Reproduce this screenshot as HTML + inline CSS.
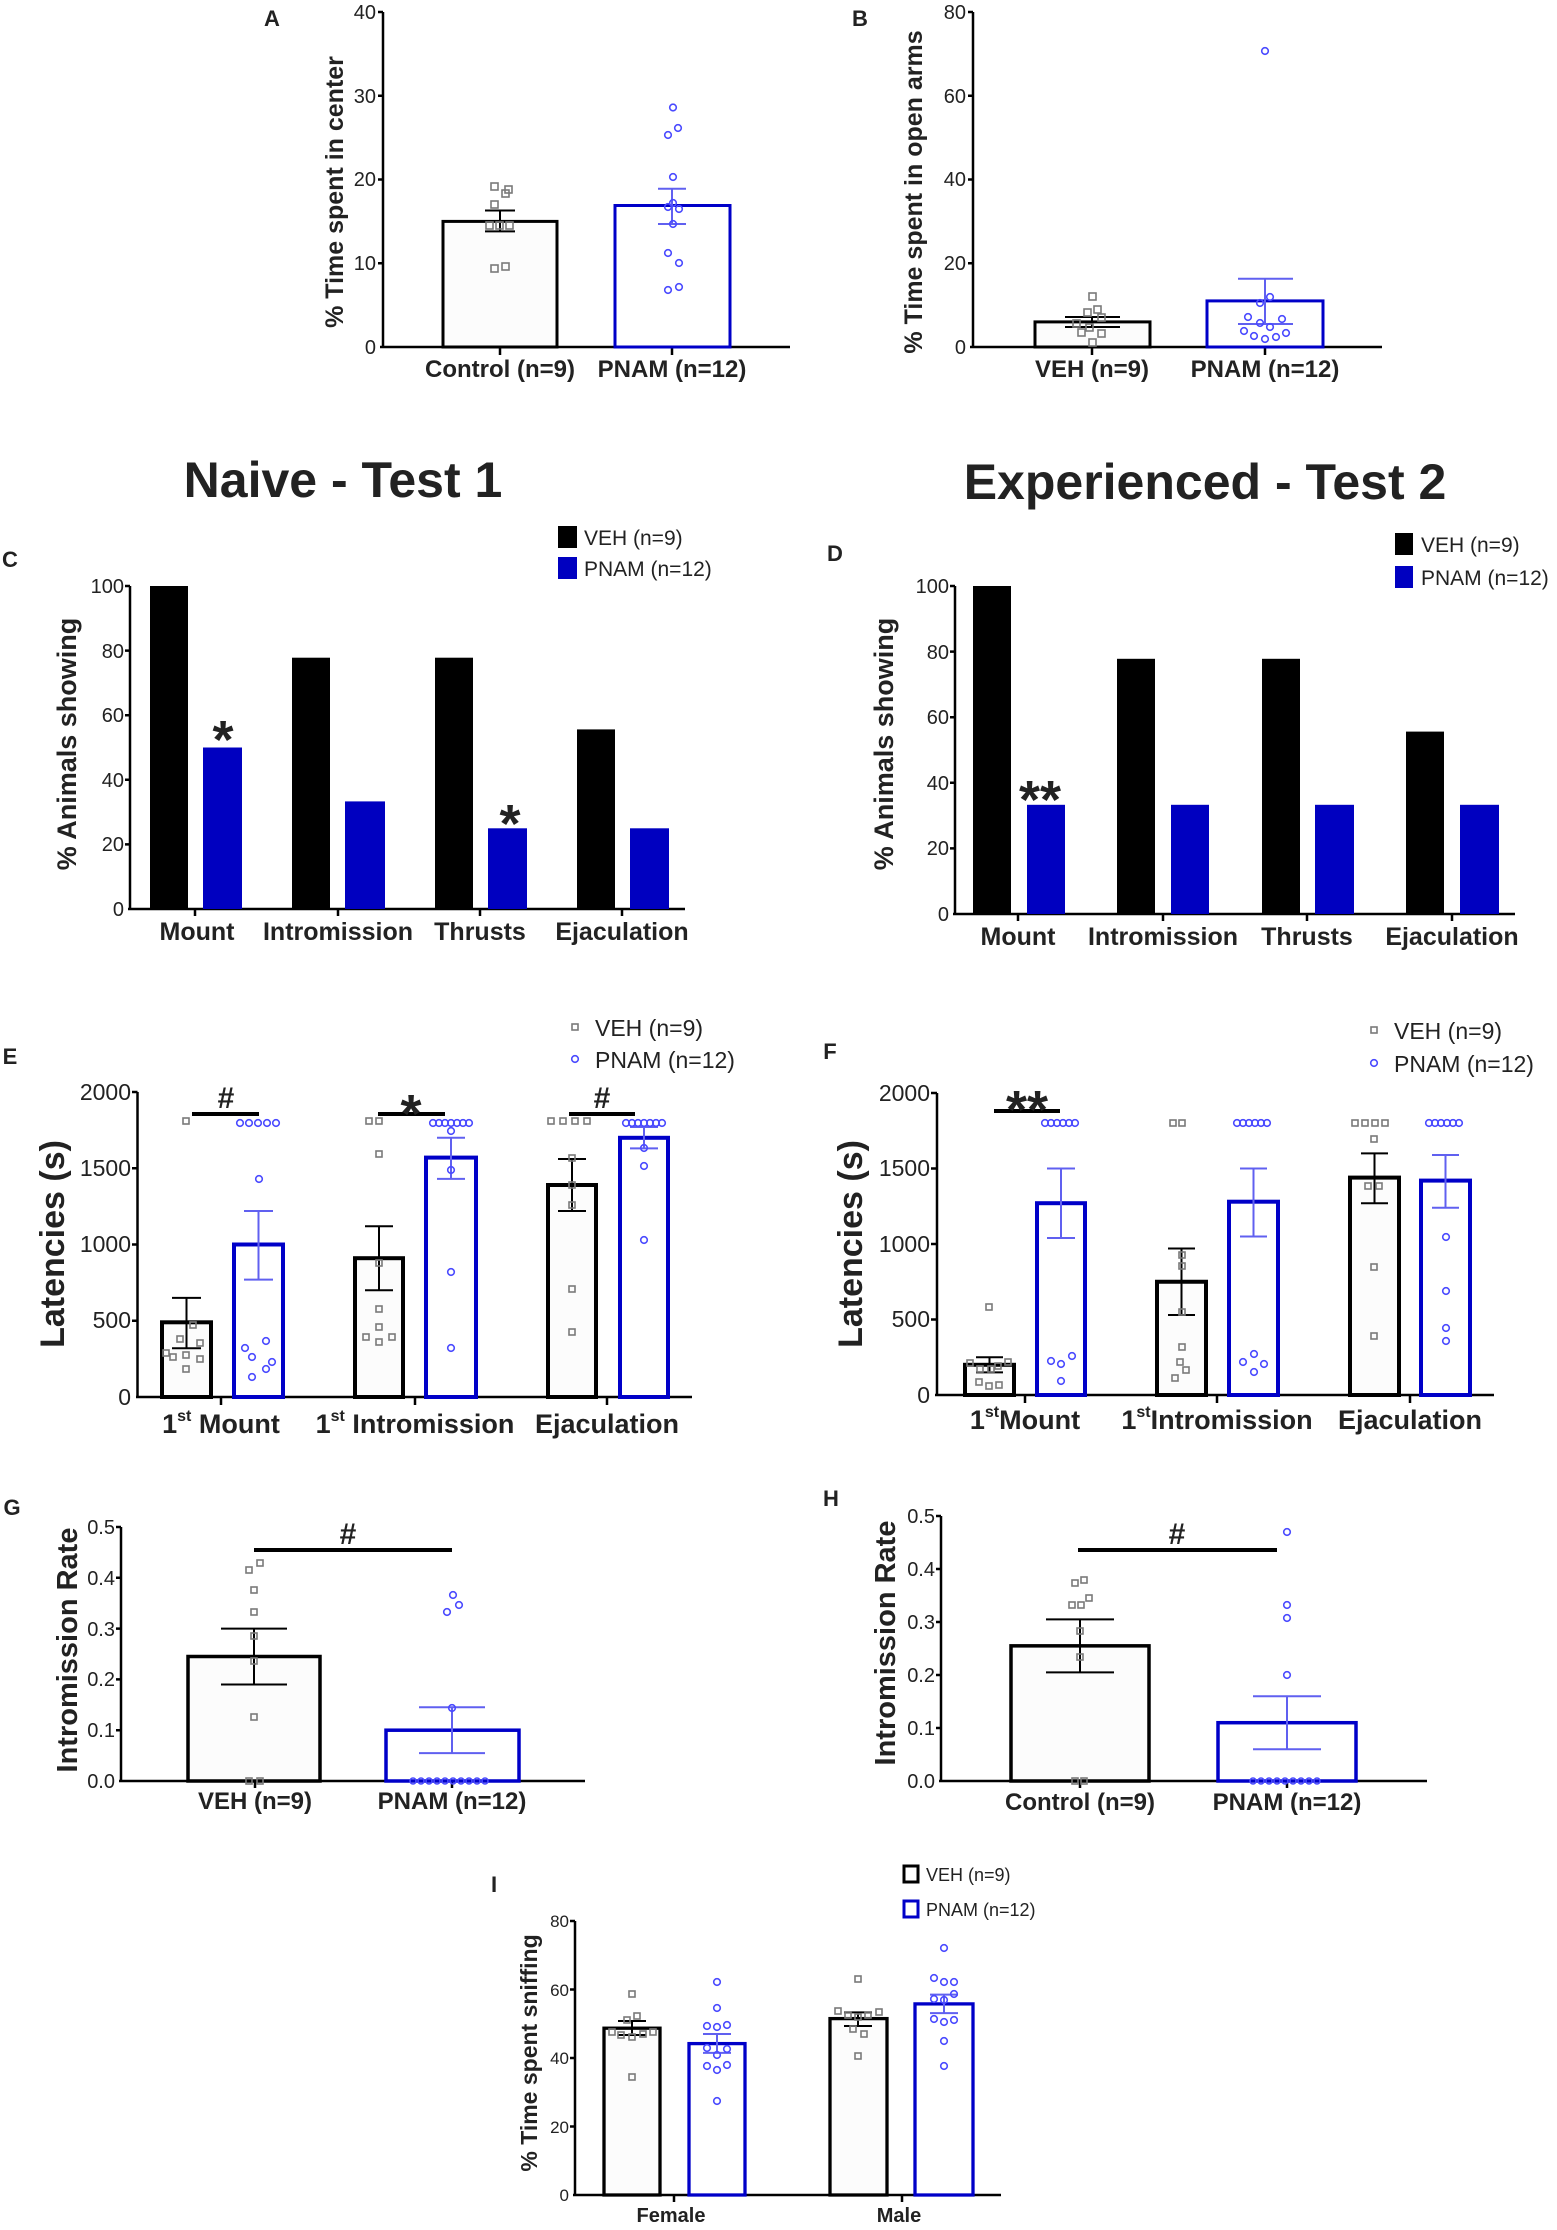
<!DOCTYPE html>
<html><head><meta charset="utf-8"><style>
html,body{margin:0;padding:0;background:#fff}
svg{display:block}
text{font-family:"Liberation Sans Narrow","Liberation Sans",Arial,sans-serif;fill:#222}
.b{font-weight:bold}
.w{font-family:"Liberation Sans",Arial,sans-serif}
.sq{fill:none;stroke:#7a7a7a;stroke-width:1.6}
.ci{fill:none;stroke:#4a4aff;stroke-width:1.6}
.vb{fill:#fcfcfc;stroke:#000}
.pb{fill:#fff;stroke:#0000c8}
.ek{stroke:#000;stroke-width:2;fill:none}
.eb{stroke:#6060f0;stroke-width:2;fill:none}
.ax{stroke:#000;stroke-width:2.5;fill:none}
</style></head><body>
<svg width="1557" height="2230" viewBox="0 0 1557 2230" xmlns="http://www.w3.org/2000/svg">

<!-- ===== Panel A ===== -->
<text x="272" y="26" class="b w" font-size="22" text-anchor="middle">A</text>
<g class="ax"><path d="M383 12V347M380 347H790M378 12H383M378 95.8H383M378 179.5H383M378 263.3H383M500 347V355M672 347V355"/></g>
<g font-size="20" text-anchor="end"><text x="376" y="19">40</text><text x="376" y="103">30</text><text x="376" y="186">20</text><text x="376" y="270">10</text><text x="376" y="354">0</text></g>
<rect x="443" y="221.4" width="114" height="125.6" class="vb" stroke-width="3"/>
<rect x="615" y="205.5" width="115" height="141.5" class="pb" stroke-width="3"/>
<path class="ek" d="M500 210.5V231.4M485 210.5H515M485 231.4H515"/>
<path class="eb" d="M672 188.7V224M658 188.7H686M658 224H686"/>
<g class="sq"><rect x="491" y="183" width="7" height="7"/><rect x="505" y="186" width="7" height="7"/><rect x="502" y="190" width="7" height="7"/><rect x="491" y="201" width="7" height="7"/><rect x="486" y="222" width="7" height="7"/><rect x="496" y="222" width="7" height="7"/><rect x="506" y="222" width="7" height="7"/><rect x="491" y="265" width="7" height="7"/><rect x="502" y="263" width="7" height="7"/></g>
<g class="ci"><circle cx="673" cy="107.5" r="3.3"/><circle cx="678" cy="128" r="3.3"/><circle cx="668" cy="135" r="3.3"/><circle cx="673" cy="177" r="3.3"/><circle cx="673" cy="203" r="3.3"/><circle cx="668" cy="207" r="3.3"/><circle cx="679" cy="209" r="3.3"/><circle cx="673" cy="224" r="3.3"/><circle cx="668" cy="253" r="3.3"/><circle cx="679" cy="263" r="3.3"/><circle cx="679" cy="287" r="3.3"/><circle cx="668" cy="290" r="3.3"/></g>
<g class="b" font-size="24" text-anchor="middle"><text x="500" y="377">Control (n=9)</text><text x="672" y="377">PNAM (n=12)</text></g>
<text transform="translate(343,192) rotate(-90)" class="b w" font-size="25" text-anchor="middle">% Time spent in center</text>

<!-- ===== Panel B ===== -->
<text x="860" y="26" class="b w" font-size="22" text-anchor="middle">B</text>
<g class="ax"><path d="M973 12V347M970 347H1382M968 12H973M968 95.75H973M968 179.5H973M968 263.25H973M1092 347V355M1265 347V355"/></g>
<g font-size="20" text-anchor="end"><text x="966" y="19">80</text><text x="966" y="103">60</text><text x="966" y="186">40</text><text x="966" y="270">20</text><text x="966" y="354">0</text></g>
<rect x="1035" y="321.9" width="115" height="25.1" class="vb" stroke-width="3"/>
<rect x="1207" y="300.9" width="116" height="46.1" class="pb" stroke-width="3"/>
<path class="ek" d="M1092 317V327M1065 317H1120M1065 327H1120"/>
<path class="eb" d="M1265 278.7V324M1238 278.7H1293M1238 324H1293"/>
<g class="sq"><rect x="1089" y="293" width="7" height="7"/><rect x="1094" y="306" width="7" height="7"/><rect x="1084" y="309" width="7" height="7"/><rect x="1098" y="314" width="7" height="7"/><rect x="1073" y="320" width="7" height="7"/><rect x="1086" y="324" width="7" height="7"/><rect x="1078" y="329" width="7" height="7"/><rect x="1098" y="330" width="7" height="7"/><rect x="1089" y="339" width="7" height="7"/></g>
<g class="ci"><circle cx="1265" cy="51" r="3.3"/><circle cx="1270" cy="297" r="3.3"/><circle cx="1260" cy="303" r="3.3"/><circle cx="1248" cy="317" r="3.3"/><circle cx="1282" cy="319" r="3.3"/><circle cx="1260" cy="323" r="3.3"/><circle cx="1270" cy="327" r="3.3"/><circle cx="1244" cy="331" r="3.3"/><circle cx="1286" cy="333" r="3.3"/><circle cx="1254" cy="336" r="3.3"/><circle cx="1276" cy="337" r="3.3"/><circle cx="1265" cy="339" r="3.3"/></g>
<g class="b" font-size="24" text-anchor="middle"><text x="1092" y="377">VEH (n=9)</text><text x="1265" y="377">PNAM (n=12)</text></g>
<text transform="translate(922,192) rotate(-90)" class="b w" font-size="25" text-anchor="middle">% Time spent in open arms</text>

<!-- ===== Titles ===== -->
<text x="343" y="497" class="b w" font-size="50" text-anchor="middle">Naive - Test 1</text>
<text x="1205" y="499" class="b w" font-size="50" text-anchor="middle">Experienced - Test 2</text>

<!-- ===== Panel C ===== -->
<text x="10" y="567" class="b w" font-size="22" text-anchor="middle">C</text>
<rect x="558" y="526" width="19" height="22" fill="#000"/>
<rect x="558" y="557" width="19" height="22" fill="#0000c0"/>
<g font-size="21"><text x="584" y="545">VEH (n=9)</text><text x="584" y="576">PNAM (n=12)</text></g>
<g class="ax"><path d="M130 586V909M128 909H685M125 586H130M125 650.6H130M125 715.2H130M125 779.8H130M125 844.4H130M195 909V916M338 909V916M480 909V916M622 909V916"/></g>
<g font-size="20" text-anchor="end"><text x="124" y="593">100</text><text x="124" y="658">80</text><text x="124" y="722">60</text><text x="124" y="787">40</text><text x="124" y="851">20</text><text x="124" y="916">0</text></g>
<g fill="#000"><rect x="150" y="586" width="38" height="323"/><rect x="292" y="657.7" width="38" height="251.3"/><rect x="435" y="657.7" width="38" height="251.3"/><rect x="577" y="729.4" width="38" height="179.6"/></g>
<g fill="#0000c0"><rect x="203" y="747.5" width="39" height="161.5"/><rect x="345" y="801.4" width="40" height="107.6"/><rect x="488" y="828.3" width="39" height="80.7"/><rect x="630" y="828.3" width="39" height="80.7"/></g>
<g class="b w" font-size="54" text-anchor="middle"><text x="223" y="758">*</text><text x="510" y="842">*</text></g>
<g class="b" font-size="25" text-anchor="middle"><text x="197" y="940">Mount</text><text x="338" y="940">Intromission</text><text x="480" y="940">Thrusts</text><text x="622" y="940">Ejaculation</text></g>
<text transform="translate(76,744) rotate(-90)" class="b w" font-size="27" text-anchor="middle">% Animals showing</text>

<!-- ===== Panel D ===== -->
<text x="835" y="561" class="b w" font-size="22" text-anchor="middle">D</text>
<rect x="1395" y="533" width="18" height="22" fill="#000"/>
<rect x="1395" y="566" width="18" height="22" fill="#0000c0"/>
<g font-size="21"><text x="1421" y="552">VEH (n=9)</text><text x="1421" y="585">PNAM (n=12)</text></g>
<g class="ax"><path d="M955 586V914M953 914H1515M950 586H955M950 651.6H955M950 717.2H955M950 782.8H955M950 848.4H955M1018 914V921M1163 914V921M1307 914V921M1452 914V921"/></g>
<g font-size="20" text-anchor="end"><text x="949" y="593">100</text><text x="949" y="659">80</text><text x="949" y="724">60</text><text x="949" y="790">40</text><text x="949" y="855">20</text><text x="949" y="921">0</text></g>
<g fill="#000"><rect x="973" y="586" width="38" height="328"/><rect x="1117" y="658.8" width="38" height="255.2"/><rect x="1262" y="658.8" width="38" height="255.2"/><rect x="1406" y="731.6" width="38" height="182.4"/></g>
<g fill="#0000c0"><rect x="1027" y="804.8" width="38" height="109.2"/><rect x="1171" y="804.8" width="38" height="109.2"/><rect x="1315" y="804.8" width="39" height="109.2"/><rect x="1460" y="804.8" width="39" height="109.2"/></g>
<text x="1040" y="818" class="b w" font-size="54" text-anchor="middle">**</text>
<g class="b" font-size="25" text-anchor="middle"><text x="1018" y="945">Mount</text><text x="1163" y="945">Intromission</text><text x="1307" y="945">Thrusts</text><text x="1452" y="945">Ejaculation</text></g>
<text transform="translate(893,744) rotate(-90)" class="b w" font-size="27" text-anchor="middle">% Animals showing</text>

<!-- ===== Panel E ===== -->
<text x="10" y="1064" class="b w" font-size="22" text-anchor="middle">E</text>
<rect x="572" y="1024" width="6" height="6" class="sq"/><circle cx="575" cy="1059" r="3.3" class="ci"/>
<g font-size="23"><text x="595" y="1036">VEH (n=9)</text><text x="595" y="1068">PNAM (n=12)</text></g>
<g class="ax"><path d="M137.5 1092V1397M136 1397H692M132 1092H137.5M132 1168.25H137.5M132 1244.5H137.5M132 1320.75H137.5M221 1397V1405M415 1397V1405M607 1397V1405"/></g>
<g font-size="23" text-anchor="end"><text x="131" y="1100">2000</text><text x="131" y="1176">1500</text><text x="131" y="1252">1000</text><text x="131" y="1328">500</text><text x="131" y="1405">0</text></g>
<g stroke-width="4"><rect x="162" y="1322.3" width="49" height="74.7" class="vb"/><rect x="355" y="1258.2" width="48" height="138.8" class="vb"/><rect x="548" y="1185" width="48" height="212" class="vb"/>
<rect x="234" y="1244.5" width="49" height="152.5" class="pb"/><rect x="426" y="1157.6" width="50" height="239.4" class="pb"/><rect x="620" y="1137.8" width="48" height="259.2" class="pb"/></g>
<path class="ek" d="M186.5 1297.9V1348.2M172 1297.9H201M172 1348.2H201M379 1226.2V1290.3M365 1226.2H393M365 1290.3H393M572 1159V1211M558 1159H586M558 1211H586"/>
<path class="eb" d="M258.5 1211V1279.6M244 1211H273M244 1279.6H273M451 1137.8V1178.9M437 1137.8H465M437 1178.9H465M644 1127V1148.4M630 1127H658M630 1148.4H658"/>
<g class="sq"><rect x="183" y="1118" width="6" height="6"/><rect x="190" y="1322" width="6" height="6"/><rect x="177" y="1336" width="6" height="6"/><rect x="197" y="1340" width="6" height="6"/><rect x="163" y="1350" width="6" height="6"/><rect x="170" y="1354" width="6" height="6"/><rect x="183" y="1352" width="6" height="6"/><rect x="197" y="1356" width="6" height="6"/><rect x="183" y="1366" width="6" height="6"/>
<rect x="366" y="1118" width="6" height="6"/><rect x="376" y="1118" width="6" height="6"/><rect x="376" y="1151" width="6" height="6"/><rect x="376" y="1260" width="6" height="6"/><rect x="376" y="1306" width="6" height="6"/><rect x="376" y="1324" width="6" height="6"/><rect x="363" y="1334" width="6" height="6"/><rect x="389" y="1334" width="6" height="6"/><rect x="376" y="1339" width="6" height="6"/>
<rect x="548" y="1118" width="6" height="6"/><rect x="560" y="1118" width="6" height="6"/><rect x="572" y="1118" width="6" height="6"/><rect x="584" y="1118" width="6" height="6"/><rect x="569" y="1155" width="6" height="6"/><rect x="569" y="1182" width="6" height="6"/><rect x="569" y="1202" width="6" height="6"/><rect x="569" y="1286" width="6" height="6"/><rect x="569" y="1329" width="6" height="6"/></g>
<g class="ci"><circle cx="240" cy="1123" r="3.3"/><circle cx="249" cy="1123" r="3.3"/><circle cx="258" cy="1123" r="3.3"/><circle cx="267" cy="1123" r="3.3"/><circle cx="276" cy="1123" r="3.3"/><circle cx="259" cy="1179" r="3.3"/><circle cx="266" cy="1341" r="3.3"/><circle cx="245" cy="1348" r="3.3"/><circle cx="252" cy="1357" r="3.3"/><circle cx="272" cy="1362" r="3.3"/><circle cx="266" cy="1369" r="3.3"/><circle cx="252" cy="1377" r="3.3"/>
<circle cx="433" cy="1123" r="3.3"/><circle cx="439" cy="1123" r="3.3"/><circle cx="445" cy="1123" r="3.3"/><circle cx="451" cy="1123" r="3.3"/><circle cx="457" cy="1123" r="3.3"/><circle cx="463" cy="1123" r="3.3"/><circle cx="469" cy="1123" r="3.3"/><circle cx="451" cy="1131" r="3.3"/><circle cx="451" cy="1170" r="3.3"/><circle cx="451" cy="1272" r="3.3"/><circle cx="451" cy="1348" r="3.3"/>
<circle cx="626" cy="1123" r="3.3"/><circle cx="632" cy="1123" r="3.3"/><circle cx="638" cy="1123" r="3.3"/><circle cx="644" cy="1123" r="3.3"/><circle cx="650" cy="1123" r="3.3"/><circle cx="656" cy="1123" r="3.3"/><circle cx="662" cy="1123" r="3.3"/><circle cx="644" cy="1148" r="3.3"/><circle cx="644" cy="1166" r="3.3"/><circle cx="644" cy="1240" r="3.3"/></g>
<path d="M192 1114H259M378 1114H445M569 1114H635" stroke="#000" stroke-width="4"/>
<g class="b w" text-anchor="middle"><text x="226" y="1108" font-size="30">#</text><text x="411" y="1132" font-size="54">*</text><text x="602" y="1108" font-size="30">#</text></g>
<g class="b" font-size="27" text-anchor="middle"><text x="221" y="1433">1<tspan font-size="16" dy="-12">st</tspan><tspan dy="12"> Mount</tspan></text><text x="415" y="1433">1<tspan font-size="16" dy="-12">st</tspan><tspan dy="12"> Intromission</tspan></text><text x="607" y="1433">Ejaculation</text></g>
<text transform="translate(64,1244) rotate(-90)" class="b w" font-size="34" text-anchor="middle">Latencies (s)</text>

<!-- ===== Panel F ===== -->
<text x="830" y="1059" class="b w" font-size="22" text-anchor="middle">F</text>
<rect x="1371" y="1027" width="6" height="6" class="sq"/><circle cx="1374" cy="1063" r="3.3" class="ci"/>
<g font-size="23"><text x="1394" y="1039">VEH (n=9)</text><text x="1394" y="1072">PNAM (n=12)</text></g>
<g class="ax"><path d="M937 1093V1395M935 1395H1494M931 1093H937M931 1168.5H937M931 1244H937M931 1319.5H937M1025 1395V1403M1217 1395V1403M1410 1395V1403"/></g>
<g font-size="23" text-anchor="end"><text x="930" y="1101">2000</text><text x="930" y="1176">1500</text><text x="930" y="1252">1000</text><text x="930" y="1327">500</text><text x="930" y="1403">0</text></g>
<g stroke-width="4"><rect x="965" y="1364.8" width="49" height="30.2" class="vb"/><rect x="1157" y="1281.75" width="49" height="113.25" class="vb"/><rect x="1350" y="1177.6" width="49" height="217.4" class="vb"/>
<rect x="1037" y="1203.2" width="48" height="191.8" class="pb"/><rect x="1229" y="1201.7" width="49" height="193.3" class="pb"/><rect x="1421" y="1180.6" width="49" height="214.4" class="pb"/></g>
<path class="ek" d="M989.5 1357.25V1372.35M976 1357.25H1003M976 1372.35H1003M1181.5 1248.5V1315M1168 1248.5H1195M1168 1315H1195M1374.5 1153.4V1203.2M1361 1153.4H1388M1361 1203.2H1388"/>
<path class="eb" d="M1061 1168.5V1238M1047 1168.5H1075M1047 1238H1075M1253.5 1168.5V1236.5M1240 1168.5H1267M1240 1236.5H1267M1445.5 1155V1207.8M1432 1155H1459M1432 1207.8H1459"/>
<g class="sq"><rect x="986" y="1304" width="6" height="6"/><rect x="967" y="1360" width="6" height="6"/><rect x="1005" y="1359" width="6" height="6"/><rect x="977" y="1366" width="6" height="6"/><rect x="988" y="1366" width="6" height="6"/><rect x="995" y="1363" width="6" height="6"/><rect x="976" y="1379" width="6" height="6"/><rect x="986" y="1383" width="6" height="6"/><rect x="996" y="1382" width="6" height="6"/>
<rect x="1170" y="1120" width="6" height="6"/><rect x="1179" y="1120" width="6" height="6"/><rect x="1179" y="1252" width="6" height="6"/><rect x="1179" y="1263" width="6" height="6"/><rect x="1179" y="1309" width="6" height="6"/><rect x="1179" y="1344" width="6" height="6"/><rect x="1177" y="1359" width="6" height="6"/><rect x="1183" y="1367" width="6" height="6"/><rect x="1172" y="1375" width="6" height="6"/>
<rect x="1352" y="1120" width="6" height="6"/><rect x="1362" y="1120" width="6" height="6"/><rect x="1372" y="1120" width="6" height="6"/><rect x="1382" y="1120" width="6" height="6"/><rect x="1371" y="1136" width="6" height="6"/><rect x="1365" y="1183" width="6" height="6"/><rect x="1376" y="1183" width="6" height="6"/><rect x="1371" y="1264" width="6" height="6"/><rect x="1371" y="1333" width="6" height="6"/></g>
<g class="ci"><circle cx="1045" cy="1123" r="3.3"/><circle cx="1051" cy="1123" r="3.3"/><circle cx="1057" cy="1123" r="3.3"/><circle cx="1063" cy="1123" r="3.3"/><circle cx="1069" cy="1123" r="3.3"/><circle cx="1075" cy="1123" r="3.3"/><circle cx="1072" cy="1356" r="3.3"/><circle cx="1051" cy="1361" r="3.3"/><circle cx="1061" cy="1364" r="3.3"/><circle cx="1061" cy="1381" r="3.3"/>
<circle cx="1237" cy="1123" r="3.3"/><circle cx="1243" cy="1123" r="3.3"/><circle cx="1249" cy="1123" r="3.3"/><circle cx="1255" cy="1123" r="3.3"/><circle cx="1261" cy="1123" r="3.3"/><circle cx="1267" cy="1123" r="3.3"/><circle cx="1254" cy="1354" r="3.3"/><circle cx="1243" cy="1362" r="3.3"/><circle cx="1264" cy="1364" r="3.3"/><circle cx="1254" cy="1372" r="3.3"/>
<circle cx="1429" cy="1123" r="3.3"/><circle cx="1435" cy="1123" r="3.3"/><circle cx="1441" cy="1123" r="3.3"/><circle cx="1447" cy="1123" r="3.3"/><circle cx="1453" cy="1123" r="3.3"/><circle cx="1459" cy="1123" r="3.3"/><circle cx="1446" cy="1237" r="3.3"/><circle cx="1446" cy="1291" r="3.3"/><circle cx="1446" cy="1328" r="3.3"/><circle cx="1446" cy="1341" r="3.3"/></g>
<path d="M994 1111H1060" stroke="#000" stroke-width="4"/>
<text x="1027" y="1128" class="b w" font-size="54" text-anchor="middle">**</text>
<g class="b" font-size="27" text-anchor="middle"><text x="1025" y="1429">1<tspan font-size="16" dy="-12">st</tspan><tspan dy="12">Mount</tspan></text><text x="1217" y="1429">1<tspan font-size="16" dy="-12">st</tspan><tspan dy="12">Intromission</tspan></text><text x="1410" y="1429">Ejaculation</text></g>
<text transform="translate(862,1244) rotate(-90)" class="b w" font-size="34" text-anchor="middle">Latencies (s)</text>

<!-- ===== Panel G ===== -->
<text x="12" y="1515" class="b w" font-size="22" text-anchor="middle">G</text>
<g class="ax"><path d="M121 1527V1781M119 1781H585M116 1527H121M116 1577.8H121M116 1628.6H121M116 1679.4H121M116 1730.2H121M255 1781V1788M452 1781V1788"/></g>
<g font-size="20" text-anchor="end"><text x="115" y="1534">0.5</text><text x="115" y="1585">0.4</text><text x="115" y="1636">0.3</text><text x="115" y="1686">0.2</text><text x="115" y="1737">0.1</text><text x="115" y="1788">0.0</text></g>
<rect x="188" y="1656.5" width="132" height="124.5" class="vb" stroke-width="3.5"/>
<rect x="386" y="1730.2" width="133" height="50.8" class="pb" stroke-width="3.5"/>
<path class="ek" d="M254 1628.6V1684.5M221 1628.6H287M221 1684.5H287"/>
<path class="eb" d="M452 1707.3V1753.1M419 1707.3H485M419 1753.1H485"/>
<g class="sq"><rect x="257" y="1560" width="6" height="6"/><rect x="246" y="1567" width="6" height="6"/><rect x="251" y="1587" width="6" height="6"/><rect x="251" y="1609" width="6" height="6"/><rect x="251" y="1633" width="6" height="6"/><rect x="251" y="1658" width="6" height="6"/><rect x="251" y="1714" width="6" height="6"/><rect x="246" y="1778" width="6" height="6"/><rect x="257" y="1778" width="6" height="6"/></g>
<g class="ci"><circle cx="453" cy="1595" r="3.3"/><circle cx="459" cy="1605" r="3.3"/><circle cx="447" cy="1612" r="3.3"/><circle cx="452" cy="1708" r="3.3"/><circle cx="413" cy="1781" r="3"/><circle cx="421" cy="1781" r="3"/><circle cx="429" cy="1781" r="3"/><circle cx="437" cy="1781" r="3"/><circle cx="445" cy="1781" r="3"/><circle cx="453" cy="1781" r="3"/><circle cx="461" cy="1781" r="3"/><circle cx="469" cy="1781" r="3"/><circle cx="477" cy="1781" r="3"/><circle cx="485" cy="1781" r="3"/></g>
<path d="M254 1550H452" stroke="#000" stroke-width="4"/>
<text x="348" y="1544" class="b w" font-size="30" text-anchor="middle">#</text>
<g class="b" font-size="24" text-anchor="middle"><text x="255" y="1809">VEH (n=9)</text><text x="452" y="1809">PNAM (n=12)</text></g>
<text transform="translate(77,1650) rotate(-90)" class="b w" font-size="29" text-anchor="middle">Intromission Rate</text>

<!-- ===== Panel H ===== -->
<text x="831" y="1506" class="b w" font-size="22" text-anchor="middle">H</text>
<g class="ax"><path d="M941 1516V1781M939 1781H1427M936 1516H941M936 1569H941M936 1622H941M936 1675H941M936 1728H941M1080 1781V1788M1287 1781V1788"/></g>
<g font-size="20" text-anchor="end"><text x="935" y="1523">0.5</text><text x="935" y="1576">0.4</text><text x="935" y="1629">0.3</text><text x="935" y="1682">0.2</text><text x="935" y="1735">0.1</text><text x="935" y="1788">0.0</text></g>
<rect x="1011" y="1645.85" width="138" height="135.15" class="vb" stroke-width="3.5"/>
<rect x="1218" y="1722.7" width="138" height="58.3" class="pb" stroke-width="3.5"/>
<path class="ek" d="M1080 1619.4V1672.4M1046 1619.4H1114M1046 1672.4H1114"/>
<path class="eb" d="M1287 1696.2V1749.2M1253 1696.2H1321M1253 1749.2H1321"/>
<g class="sq"><rect x="1081" y="1577" width="6" height="6"/><rect x="1072" y="1580" width="6" height="6"/><rect x="1086" y="1595" width="6" height="6"/><rect x="1069" y="1602" width="6" height="6"/><rect x="1078" y="1602" width="6" height="6"/><rect x="1077" y="1628" width="6" height="6"/><rect x="1077" y="1654" width="6" height="6"/><rect x="1072" y="1778" width="6" height="6"/><rect x="1081" y="1778" width="6" height="6"/></g>
<g class="ci"><circle cx="1287" cy="1532" r="3.3"/><circle cx="1287" cy="1605" r="3.3"/><circle cx="1287" cy="1618" r="3.3"/><circle cx="1287" cy="1675" r="3.3"/><circle cx="1253" cy="1781" r="3"/><circle cx="1261" cy="1781" r="3"/><circle cx="1269" cy="1781" r="3"/><circle cx="1277" cy="1781" r="3"/><circle cx="1285" cy="1781" r="3"/><circle cx="1293" cy="1781" r="3"/><circle cx="1301" cy="1781" r="3"/><circle cx="1309" cy="1781" r="3"/><circle cx="1317" cy="1781" r="3"/></g>
<path d="M1078 1550H1277" stroke="#000" stroke-width="4"/>
<text x="1177" y="1544" class="b w" font-size="30" text-anchor="middle">#</text>
<g class="b" font-size="24" text-anchor="middle"><text x="1080" y="1810">Control (n=9)</text><text x="1287" y="1810">PNAM (n=12)</text></g>
<text transform="translate(895,1643) rotate(-90)" class="b w" font-size="29" text-anchor="middle">Intromission Rate</text>

<!-- ===== Panel I ===== -->
<text x="494" y="1892" class="b w" font-size="22" text-anchor="middle">I</text>
<rect x="904" y="1866" width="14" height="16" fill="none" stroke="#000" stroke-width="3"/>
<rect x="904" y="1901" width="14" height="16" fill="none" stroke="#0000c8" stroke-width="3"/>
<g font-size="18"><text x="926" y="1881">VEH (n=9)</text><text x="926" y="1916">PNAM (n=12)</text></g>
<g class="ax"><path d="M575 1921V2195M573 2195H1001M570 1921H575M570 1989.5H575M570 2058H575M570 2126.5H575M674 2195V2202M902 2195V2202"/></g>
<g font-size="17" text-anchor="end"><text x="569" y="1927">80</text><text x="569" y="1996">60</text><text x="569" y="2064">40</text><text x="569" y="2133">20</text><text x="569" y="2201">0</text></g>
<g stroke-width="3.3"><rect x="604" y="2028.2" width="56" height="166.8" class="vb"/><rect x="830" y="2018.6" width="57" height="176.4" class="vb"/>
<rect x="689" y="2043.6" width="56" height="151.4" class="pb"/><rect x="915" y="2003.9" width="58" height="191.1" class="pb"/></g>
<path class="ek" d="M632 2021V2035M618 2021H646M618 2035H646M858 2012.4V2026M844 2012.4H872M844 2026H872"/>
<path class="eb" d="M717 2034V2052.9M703 2034H731M703 2052.9H731M944 1994.6V2013.1M930 1994.6H958M930 2013.1H958"/>
<g class="sq"><rect x="629" y="1991" width="6" height="6"/><rect x="634" y="2013" width="6" height="6"/><rect x="624" y="2017" width="6" height="6"/><rect x="609" y="2029" width="6" height="6"/><rect x="618" y="2032" width="6" height="6"/><rect x="629" y="2034" width="6" height="6"/><rect x="640" y="2031" width="6" height="6"/><rect x="650" y="2029" width="6" height="6"/><rect x="629" y="2074" width="6" height="6"/>
<rect x="855" y="1976" width="6" height="6"/><rect x="835" y="2008" width="6" height="6"/><rect x="845" y="2012" width="6" height="6"/><rect x="855" y="2014" width="6" height="6"/><rect x="865" y="2012" width="6" height="6"/><rect x="876" y="2009" width="6" height="6"/><rect x="850" y="2026" width="6" height="6"/><rect x="861" y="2031" width="6" height="6"/><rect x="855" y="2053" width="6" height="6"/></g>
<g class="ci"><circle cx="717" cy="1982" r="3.3"/><circle cx="717" cy="2008" r="3.3"/><circle cx="707" cy="2026" r="3.3"/><circle cx="717" cy="2027" r="3.3"/><circle cx="727" cy="2025" r="3.3"/><circle cx="707" cy="2048" r="3.3"/><circle cx="727" cy="2049" r="3.3"/><circle cx="717" cy="2055" r="3.3"/><circle cx="707" cy="2066" r="3.3"/><circle cx="727" cy="2065" r="3.3"/><circle cx="717" cy="2070" r="3.3"/><circle cx="717" cy="2101" r="3.3"/>
<circle cx="944" cy="1948" r="3.3"/><circle cx="934" cy="1978" r="3.3"/><circle cx="944" cy="1982" r="3.3"/><circle cx="954" cy="1982" r="3.3"/><circle cx="954" cy="1994" r="3.3"/><circle cx="934" cy="1999" r="3.3"/><circle cx="944" cy="2000" r="3.3"/><circle cx="934" cy="2019" r="3.3"/><circle cx="944" cy="2022" r="3.3"/><circle cx="954" cy="2020" r="3.3"/><circle cx="944" cy="2041" r="3.3"/><circle cx="944" cy="2066" r="3.3"/></g>
<g class="b" font-size="20" text-anchor="middle"><text x="671" y="2222">Female</text><text x="899" y="2222">Male</text></g>
<text transform="translate(537,2053) rotate(-90)" class="b w" font-size="23" text-anchor="middle">% Time spent sniffing</text>
</svg>
</body></html>
